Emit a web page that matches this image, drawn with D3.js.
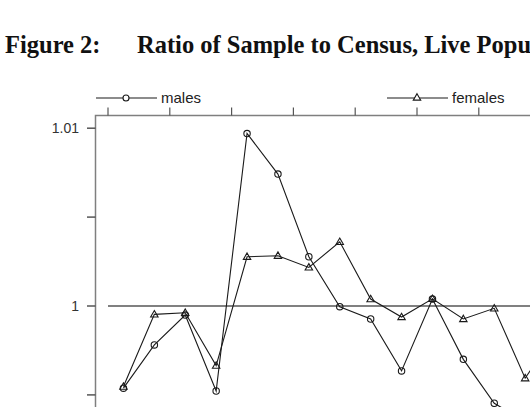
<!DOCTYPE html>
<html>
<head>
<meta charset="utf-8">
<script src="https://cdn.jsdelivr.net/npm/d3@7"></script>
<style>
  html, body { margin: 0; padding: 0; background: #fff; overflow: hidden; }
  svg { display: block; }
</style>
</head>
<body>
<script>
// ---- data ----
const ages = [2.5, 7.5, 12.5, 17.5, 22.5, 27.5, 32.5, 37.5, 42.5, 47.5, 52.5, 57.5, 62.5, 67.5, 72.5];
const males = [0.99538, 0.99781, 0.99949, 0.99522, 1.0097, 1.00742, 1.00277, 0.99996, 0.99927, 0.99635, 1.00039, 0.9970, 0.99453, 0.9935, 0.9960];
const females = [0.99547, 0.99953, 0.99962, 0.99665, 1.00277, 1.00283, 1.00217, 1.00361, 1.00039, 0.99938, 1.0004, 0.99927, 0.99987, 0.99594, 0.9985];
const xTicks = [0, 10, 20, 30, 40, 50, 60, 70, 80];
const yTicks = [0.995, 1.0, 1.005, 1.01];
const yTickLabels = ["0.995", "1", "1.005", "1.01"];
const yLabelShown = [false, true, false, true];
const titleLeft = "Figure 2:";
const titleRight = "Ratio of Sample to Census, Live Population";
const seriesNames = ["males", "females"];

const W = 530, H = 407;
const svg = d3.select("body").append("svg").attr("width", W).attr("height", H);

// plot frame geometry
const frameLeft = 95.5, frameTop = 115.5;
const x = d3.scaleLinear().domain([0, 10]).range([108, 169.8]);
const y = d3.scaleLinear().domain([1.0, 1.01]).range([306, 128.2]);
const frameRight = 700, frameBottom = 600;

// title
svg.append("text").attr("x", 5).attr("y", 53)
  .attr("font-family", "'Liberation Serif', 'Times New Roman', serif")
  .attr("font-weight", "bold").attr("font-size", 24.5).attr("fill", "#111")
  .text(titleLeft);
svg.append("text").attr("x", 137).attr("y", 53)
  .attr("font-family", "'Liberation Serif', 'Times New Roman', serif")
  .attr("font-weight", "bold").attr("font-size", 24.5).attr("fill", "#111")
  .text(titleRight);

const frameColor = "#7f7f7f";

// frame
svg.append("rect")
  .attr("x", frameLeft).attr("y", frameTop)
  .attr("width", frameRight - frameLeft).attr("height", frameBottom - frameTop)
  .attr("fill", "none").attr("stroke", frameColor).attr("stroke-width", 1.5);

// top ticks (outward, no labels)
svg.append("g").selectAll("line").data(xTicks).join("line")
  .attr("x1", d => x(d)).attr("x2", d => x(d))
  .attr("y1", frameTop).attr("y2", frameTop - 8)
  .attr("stroke", "#555").attr("stroke-width", 1.2);

// left ticks + labels
const yAxis = svg.append("g");
yAxis.selectAll("line").data(yTicks).join("line")
  .attr("x1", frameLeft).attr("x2", frameLeft - 8.5)
  .attr("y1", d => y(d)).attr("y2", d => y(d))
  .attr("stroke", "#555").attr("stroke-width", 1.5);
yAxis.selectAll("text").data(yTicks.map((d, i) => ({v: d, l: yTickLabels[i], s: yLabelShown[i]})).filter(d => d.s))
  .join("text")
  .attr("x", 79).attr("y", d => y(d.v)).attr("dy", "0.36em")
  .attr("text-anchor", "end")
  .attr("font-family", "'Liberation Sans', Arial, sans-serif").attr("font-size", 14)
  .attr("fill", "#333")
  .text(d => d.l);

// reference line at 1
svg.append("line")
  .attr("x1", x(0)).attr("x2", frameRight)
  .attr("y1", y(1)).attr("y2", y(1))
  .attr("stroke", "#808080").attr("stroke-width", 2);

const line = d3.line().x((d, i) => x(ages[i])).y(d => y(d));

// series lines
[males, females].forEach(s => {
  svg.append("path").datum(s).attr("d", line)
    .attr("fill", "none").attr("stroke", "#1a1a1a").attr("stroke-width", 1.1);
});

// markers
const tri = d3.symbol().type(d3.symbolTriangle).size(24);
svg.append("g").selectAll("circle").data(males).join("circle")
  .attr("cx", (d, i) => x(ages[i])).attr("cy", d => y(d)).attr("r", 3.2)
  .attr("fill", "none").attr("stroke", "#1a1a1a").attr("stroke-width", 1.1);
svg.append("g").selectAll("path").data(females).join("path")
  .attr("d", tri)
  .attr("transform", (d, i) => `translate(${x(ages[i])},${y(d) + 0.5})`)
  .attr("fill", "none").attr("stroke", "#1a1a1a").attr("stroke-width", 1.1);

// legend
const legY = 98;
const leg = svg.append("g");
leg.append("line").attr("x1", 96).attr("x2", 157).attr("y1", legY).attr("y2", legY)
  .attr("stroke", "#1a1a1a").attr("stroke-width", 1.1);
leg.append("circle").attr("cx", 126).attr("cy", legY).attr("r", 3)
  .attr("fill", "#fff").attr("stroke", "#1a1a1a").attr("stroke-width", 1.1);
leg.append("text").attr("x", 161).attr("y", legY).attr("dy", "0.3em")
  .attr("font-family", "'Liberation Sans', Arial, sans-serif").attr("font-size", 15).attr("fill", "#222")
  .text(seriesNames[0]);
leg.append("line").attr("x1", 387).attr("x2", 448).attr("y1", legY).attr("y2", legY)
  .attr("stroke", "#1a1a1a").attr("stroke-width", 1.1);
leg.append("path").attr("d", tri).attr("transform", `translate(417,${legY})`)
  .attr("fill", "#fff").attr("stroke", "#1a1a1a").attr("stroke-width", 1.1);
leg.append("text").attr("x", 452).attr("y", legY).attr("dy", "0.3em")
  .attr("font-family", "'Liberation Sans', Arial, sans-serif").attr("font-size", 15).attr("fill", "#222")
  .text(seriesNames[1]);
</script>
</body>
</html>
